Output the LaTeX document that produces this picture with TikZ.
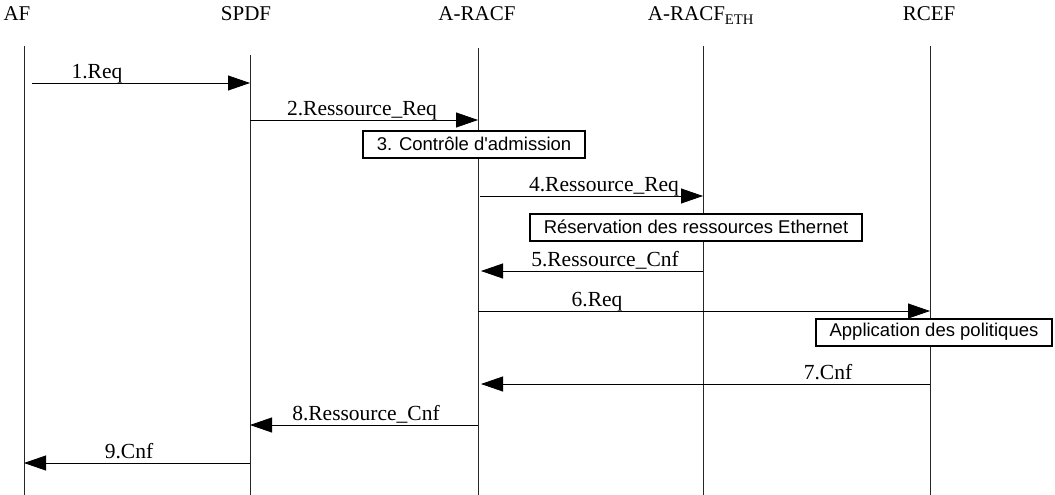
\documentclass[tikz,border=0pt]{standalone}
\usepackage{fontspec}
\setmainfont{Liberation Serif}
\newfontfamily\boxfont{Liberation Sans}
\usetikzlibrary{arrows.meta,positioning}

\tikzset{
  head/.style={font=\fontsize{21}{23}\selectfont,anchor=base,inner sep=0pt},
  life/.style={line width=0.6pt,black!85},
  msg/.style={line width=0.8pt,-{Triangle[length=22pt,width=15pt]}},
  msglbl/.style={font=\fontsize{21.5}{23}\selectfont,anchor=base,inner sep=0pt},
  actbox/.style={draw,line width=2pt,fill=white,font=\boxfont\fontsize{18.5}{20}\selectfont,
    inner xsep=14pt,inner ysep=0pt,minimum height=27pt}
}

\begin{document}
\begin{tikzpicture}[x=1pt,y=1pt]
  \useasboundingbox (0,0) rectangle (1055,-495);

  % lifeline heads
  \node[head] (afHead)   at (17,-21)  {AF};
  \node[head] (spdfHead) at (246,-21) {SPDF};
  \node[head] (racfHead) at (477,-21) {A-RACF};
  \node[head] (ethHead)  at (701,-21) {A-RACF\textsubscript{ETH}};
  \node[head] (rcefHead) at (929,-21) {RCEF};

  % lifelines
  \coordinate (AF)   at (24,-46);
  \coordinate (SPDF) at (250,-55);
  \coordinate (RACF) at (478,-48);
  \coordinate (ETH)  at (703,-46);
  \coordinate (RCEF) at (930,-46);
  \coordinate (bot)  at (0,-495);
  \foreach \l in {AF,SPDF,RACF,ETH,RCEF}
    \draw[life] (\l) -- (\l |- bot);

  % message rows
  \coordinate (r1) at (0,-83);
  \coordinate (r2) at (0,-120);
  \coordinate (r4) at (0,-196);
  \coordinate (r5) at (0,-271);
  \coordinate (r6) at (0,-311);
  \coordinate (r7) at (0,-384);
  \coordinate (r8) at (0,-425);
  \coordinate (r9) at (0,-463);

  \draw[msg,shorten <=8pt] (AF |- r1) -- (SPDF |- r1);
  \node[msglbl] (m1) at (97,-78) {1.Req};

  \draw[msg] (SPDF |- r2) -- (RACF |- r2);
  \node[msglbl] (m2) at (362,-115) {2.Ressource\_Req};

  \node[actbox] (adm) at (474,-144) {3. Contrôle d'admission};

  \draw[msg,shorten <=2pt] (RACF |- r4) -- (ETH |- r4);
  \node[msglbl] (m4) at (604,-191) {4.Ressource\_Req};

  \node[actbox] (resa) at (696,-227) {Réservation des ressources Ethernet};

  \draw[msg,shorten >=3pt] (ETH |- r5) -- (RACF |- r5);
  \node[msglbl] (m5) at (605,-266) {5.Ressource\_Cnf};

  \draw[msg] (RACF |- r6) -- (RCEF |- r6);
  \node[msglbl] (m6) at (597,-306) {6.Req};

  \node[actbox] (polit) at (934,-332) {Application des politiques};

  \draw[msg,shorten >=3pt] (RCEF |- r7) -- (RACF |- r7);
  \node[msglbl] (m7) at (828,-379) {7.Cnf};

  \draw[msg] (RACF |- r8) -- (SPDF |- r8);
  \node[msglbl] (m8) at (366,-420) {8.Ressource\_Cnf};

  \draw[msg] (SPDF |- r9) -- (AF |- r9);
  \node[msglbl] (m9) at (129,-458) {9.Cnf};
\end{tikzpicture}
\end{document}
